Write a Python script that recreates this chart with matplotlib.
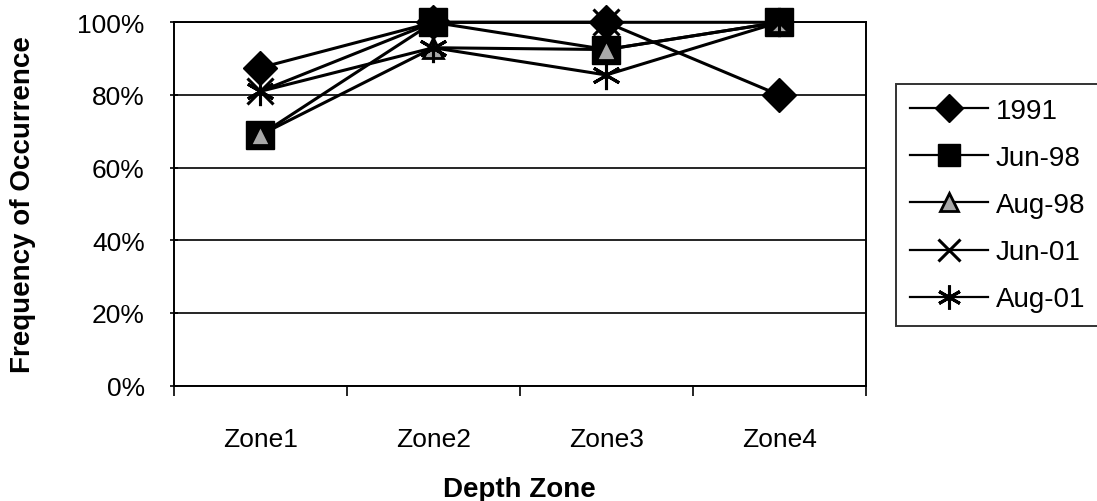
import matplotlib
matplotlib.use("Agg")
from matplotlib import pyplot as plt
from matplotlib.ticker import FixedLocator, PercentFormatter

# Frequency of occurrence per depth zone for each survey
zones = ['Zone1', 'Zone2', 'Zone3', 'Zone4']
surveys = ['1991', 'Jun-98', 'Aug-98', 'Jun-01', 'Aug-01']
freq_1991 = [0.875, 1.00, 1.00, 0.80]
freq_jun98 = [0.69, 1.00, 0.925, 1.00]
freq_aug98 = [0.69, 0.93, 0.925, 1.00]
freq_jun01 = [0.81, 1.00, 1.00, 1.00]
freq_aug01 = [0.81, 0.93, 0.855, 1.00]

series = [freq_1991, freq_jun98, freq_aug98, freq_jun01, freq_aug01]

# marker styles, Excel-like
styles = [
    dict(marker='D', markersize=17, markerfacecolor='black', markeredgecolor='black'),
    dict(marker='s', markersize=20, markerfacecolor='black', markeredgecolor='black'),
    dict(marker='^', markersize=15, markerfacecolor='#a8a8a8', markeredgecolor='black', markeredgewidth=2),
    dict(marker='x', markersize=19, markeredgecolor='black', markeredgewidth=2.2),
    dict(marker=(6, 2, 0), markersize=21, markeredgecolor='black', markeredgewidth=2.2),
]

plt.rcParams['font.family'] = ['Liberation Sans', 'DejaVu Sans']

fig = plt.figure(figsize=(10.97, 5.02), dpi=100)
ax = fig.add_axes([0.1586, 0.2299, 0.6304, 0.7237])

x = list(range(len(zones)))
for vals, name, st in zip(series, surveys, styles):
    ax.plot(x, vals, color='black', linewidth=2.2, label=name, clip_on=False, **st)

ax.set_xlim(-0.5, len(zones) - 0.5)
ax.set_ylim(0, 1.0)
ax.yaxis.set_major_locator(FixedLocator([0, 0.2, 0.4, 0.6, 0.8, 1.0]))
ax.yaxis.set_major_formatter(PercentFormatter(1.0, decimals=0))
ax.grid(axis='y', color='black', linewidth=1.2)
ax.set_axisbelow(True)

ax.set_xticks(x)
ax.set_xticklabels(zones)
ax.xaxis.set_minor_locator(FixedLocator([-0.5, 0.5, 1.5, 2.5, 3.5]))
ax.tick_params(axis='x', which='major', length=0, pad=30, labelsize=19)
ax.tick_params(axis='x', which='minor', length=7, width=1.2, direction='out')
ax.tick_params(axis='y', length=6, width=1.2, direction='inout', pad=18, labelsize=19)

for side in ['left', 'bottom', 'right', 'top']:
    ax.spines[side].set_color('black')
    ax.spines[side].set_linewidth(1.4)

ax.set_xlabel('Depth Zone', fontsize=20, fontweight='bold', labelpad=18)
ax.set_ylabel('Frequency of Occurrence', fontsize=20, fontweight='bold', labelpad=30)

leg = fig.legend(loc='upper left', bbox_to_anchor=(896 / 1097, 1 - 85 / 502),
                 borderaxespad=0, frameon=True, fancybox=False, fontsize=20,
                 handlelength=2.8, handletextpad=0.3, labelspacing=0.76,
                 borderpad=0.5, markerscale=0.82)
leg.get_frame().set_edgecolor('black')
leg.get_frame().set_linewidth(1.4)
for h in leg.legend_handles:
    h.set_linewidth(1.6)

fig.savefig('out.png', dpi=100, facecolor='white')
